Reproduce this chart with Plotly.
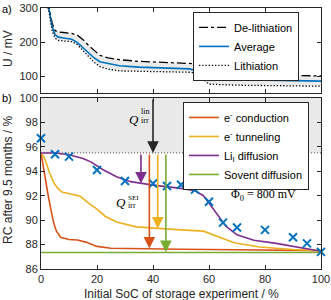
import plotly.graph_objects as go

# ---------------- data ----------------
# panel a) voltage curves
soc_u = [0, 2, 3, 4, 5, 6, 8, 11, 13, 15, 17, 19, 21, 24, 28, 35, 45, 53, 56, 58, 60, 62, 65, 70, 80, 90, 100]
u_delith = [480, 340, 298, 255, 234, 230, 228, 225, 220, 207, 190, 174, 161, 153, 148, 143, 140, 138, 136, 133, 128, 121, 113, 108, 104, 102, 100]
u_avg = [470, 330, 290, 245, 222, 215, 212, 208, 198, 182, 166, 153, 142, 136, 130, 126, 124, 121, 114, 100, 95, 92, 91, 89, 88, 86, 85]
u_lith = [460, 320, 282, 232, 212, 205, 203, 201, 192, 175, 158, 140, 128, 120, 115, 114, 113, 111, 108, 90, 76, 75, 74, 73, 72, 71, 70]

# panel b) measured recoverable capacity
soc_meas = [0, 5, 10, 20, 30, 40, 45, 50, 55, 60, 65, 70, 80, 90, 95, 100]
rc_meas = [96.7, 95.4, 95.2, 94.1, 93.2, 93.0, 92.8, 92.9, 92.5, 91.5, 89.8, 89.4, 89.2, 88.6, 88.1, 87.4]

# model curves
soc_cond = [0, 0.7, 1.5, 2.5, 3.5, 4.5, 5.5, 7, 10, 13, 16, 20, 25, 35, 50, 70, 100]
rc_cond = [95.5, 94.5, 93.4, 92.1, 90.9, 89.8, 89.1, 88.6, 88.42, 88.38, 88.2, 87.85, 87.7, 87.65, 87.62, 87.57, 87.5]

soc_tun = [0, 1, 2, 3, 4.5, 6, 7.5, 10, 14, 17, 20, 23, 27, 34, 44, 50, 58, 64, 69, 78, 90, 100]
rc_tun = [95.5, 95.2, 94.6, 93.9, 93.1, 92.6, 92.3, 92.15, 91.95, 91.4, 90.9, 90.3, 89.85, 89.45, 89.26, 89.2, 89.1, 88.6, 88.15, 87.8, 87.6, 87.5]

soc_lii = [0, 5, 10, 15, 18, 22, 27, 32, 40, 50, 55, 58, 60, 63, 66, 70, 76, 84, 92, 100]
rc_lii = [95.5, 95.5, 95.35, 95.05, 94.75, 94.15, 93.55, 93.15, 92.87, 92.6, 92.4, 92.0, 91.4, 90.5, 89.5, 88.8, 88.35, 88.1, 87.75, 87.45]

soc_solv = [0, 100]
rc_solv = [87.35, 87.35]

lin_level = 95.5          # RC after linear (calendar) loss
rc_top = 100

# arrows: SoC, start RC, end RC
arrow_soc = [40, 35.7, 38.7, 41.7, 44.6]
arrow_start = [rc_top, lin_level, lin_level, lin_level, lin_level]
arrow_end = [lin_level, 93.0, 87.68, 89.3, 87.38]

# ---------------- styling ----------------
BLUE = '#0072BD'
ORANGE = '#D95319'
YELLOW = '#EDB120'
PURPLE = '#7E2F8E'
GREEN = '#77AC30'
AX = '#262626'
FONT = 'Liberation Sans, Arial, sans-serif'
SERIF = 'Liberation Serif, DejaVu Serif, serif'
arrow_col = ['#262626', PURPLE, ORANGE, YELLOW, GREEN]

fig = go.Figure()

# ---- panel a ----
fig.add_trace(go.Scatter(x=soc_u, y=u_lith, mode='lines', line=dict(width=0, color='rgba(0,0,0,0)'),
                         xaxis='x2', yaxis='y2', showlegend=False, hoverinfo='skip'))
fig.add_trace(go.Scatter(x=soc_u, y=u_delith, mode='lines', line=dict(width=0, color='rgba(0,0,0,0)'),
                         fill='tonexty', fillcolor='#ebebeb',
                         xaxis='x2', yaxis='y2', showlegend=False, hoverinfo='skip'))
fig.add_trace(go.Scatter(x=soc_u, y=u_delith, mode='lines', name='De-lithiation',
                         line=dict(color='black', width=1.3, dash='dashdot'),
                         xaxis='x2', yaxis='y2', legend='legend'))
fig.add_trace(go.Scatter(x=soc_u, y=u_avg, mode='lines', name='Average',
                         line=dict(color=BLUE, width=1.6),
                         xaxis='x2', yaxis='y2', legend='legend'))
fig.add_trace(go.Scatter(x=soc_u, y=u_lith, mode='lines', name='Lithiation',
                         line=dict(color='black', width=1.3, dash='1.3px,1.9px'),
                         xaxis='x2', yaxis='y2', legend='legend'))

# ---- panel b ----
fig.add_trace(go.Scatter(x=soc_cond, y=rc_cond, mode='lines', name='e<sup>-</sup> conduction',
                         line=dict(color=ORANGE, width=1.6), legend='legend2'))
fig.add_trace(go.Scatter(x=soc_tun, y=rc_tun, mode='lines', name='e<sup>-</sup> tunneling',
                         line=dict(color=YELLOW, width=1.6), legend='legend2'))
fig.add_trace(go.Scatter(x=soc_lii, y=rc_lii, mode='lines', name='Li<sub>I</sub> diffusion',
                         line=dict(color=PURPLE, width=1.6), legend='legend2'))
fig.add_trace(go.Scatter(x=soc_solv, y=rc_solv, mode='lines', name='Sovent diffusion',
                         line=dict(color=GREEN, width=1.6), legend='legend2'))
fig.add_trace(go.Scatter(x=soc_meas, y=rc_meas, mode='markers', showlegend=False,
                         marker=dict(symbol='x-thin', size=8, line=dict(color=BLUE, width=2), color=BLUE),
                         cliponaxis=False))

# grey "linear loss" region
fig.add_shape(type='rect', xref='x', yref='y', x0=0, x1=100, y0=lin_level, y1=rc_top,
              fillcolor='#e9e9e9', line=dict(width=0), layer='below')
fig.add_shape(type='line', xref='x', yref='y', x0=0, x1=100, y0=lin_level, y1=lin_level,
              line=dict(color='#707070', width=1.2, dash='1px,2px'), layer='below')

annotations = []
for xs, y0, y1, c in zip(arrow_soc, arrow_start, arrow_end, arrow_col):
    annotations.append(dict(x=xs, y=y1, ax=xs, ay=y0, xref='x', yref='y', axref='x', ayref='y',
                            text='', showarrow=True, arrowhead=2, arrowsize=1.45, arrowwidth=1.6,
                            arrowcolor=c, standoff=0, startstandoff=0))

# Q labels (symbol + superscript + subscript)
def qlabel(xq, yq, sup, ysup, ysub, supsize):
    return [
        dict(x=xq, y=yq, xref='x', yref='y', text='<i>Q</i>', showarrow=False, xanchor='right',
             borderpad=0, font=dict(family=SERIF, size=13, color='black')),
        dict(x=xq, y=ysup, xref='x', yref='y', text=sup, showarrow=False, xanchor='left',
             borderpad=0, font=dict(family=SERIF, size=supsize, color='black')),
        dict(x=xq, y=ysub, xref='x', yref='y', text='irr', showarrow=False, xanchor='left',
             borderpad=0, font=dict(family=SERIF, size=8, color='black')),
    ]

annotations += qlabel(35.4, 98.28, 'lin', 98.9, 98.13, 8)
annotations += qlabel(30.8, 91.43, 'SEI', 91.84, 91.22, 7)
annotations.append(dict(x=79.6, y=92.05, xref='x', yref='y', text='Φ<sub>0</sub> = 800 mV',
                        showarrow=False, font=dict(family=SERIF, size=12, color='black')))

# panel letters and axis titles
annotations += [
    dict(x=-0.12, y=0.996, xref='paper', yref='paper', text='a)', showarrow=False,
         font=dict(family=FONT, size=11, color='black'), xanchor='center', yanchor='middle'),
    dict(x=-0.12, y=0.655, xref='paper', yref='paper', text='b)', showarrow=False,
         font=dict(family=FONT, size=11, color='black'), xanchor='center', yanchor='middle'),
    dict(x=-0.118, y=0.847, xref='paper', yref='paper', text='U / mV', showarrow=False, textangle=-90,
         font=dict(family=FONT, size=12, color=AX), xanchor='center', yanchor='middle'),
    dict(x=-0.118, y=0.341, xref='paper', yref='paper', text='RC after 9.5 months / %', showarrow=False,
         textangle=-90, font=dict(family=FONT, size=12, color=AX), xanchor='center', yanchor='middle'),
    dict(x=0.5, y=-0.096, xref='paper', yref='paper', text='Initial SoC of storage experiment / %',
         showarrow=False, font=dict(family=FONT, size=12, color=AX), xanchor='center', yanchor='middle'),
]

axis_common = dict(showline=True, linecolor=AX, linewidth=1, mirror='ticks', ticks='inside',
                   ticklen=4, tickcolor=AX, tickwidth=1, showgrid=False, zeroline=False,
                   automargin=False, tickfont=dict(family=FONT, size=11, color=AX))

fig.update_layout(
    template='none',
    width=331, height=300, autosize=False,
    margin=dict(l=41, r=10, t=8, b=31, pad=0, autoexpand=False),
    paper_bgcolor='white', plot_bgcolor='white',
    font=dict(family=FONT, size=11, color=AX),
    xaxis=dict(range=[0, 100], domain=[0, 1], anchor='y', tickvals=[0, 20, 40, 60, 80, 100], **axis_common),
    yaxis=dict(range=[86, 100], domain=[0, 0.6552], anchor='x', tickvals=[86, 88, 90, 92, 94, 96, 98, 100],
               **axis_common),
    xaxis2=dict(range=[0, 100], domain=[0, 1], anchor='y2', tickvals=[0, 20, 40, 60, 80, 100],
                showticklabels=False, **axis_common),
    yaxis2=dict(range=[50, 300], domain=[0.6743, 1], anchor='x2', tickvals=[100, 200, 300], **axis_common),
    legend=dict(x=0.543, y=0.985, xanchor='left', yanchor='top', bgcolor='white', bordercolor=AX,
                borderwidth=1, font=dict(family=FONT, size=11, color='black'), tracegroupgap=0,
                itemwidth=30, traceorder='normal'),
    legend2=dict(x=0.507, y=0.640, xanchor='left', yanchor='top', bgcolor='white', bordercolor=AX,
                 borderwidth=1, font=dict(family=FONT, size=11, color='black'), tracegroupgap=0,
                 itemwidth=30, traceorder='normal'),
    annotations=annotations,
    showlegend=True,
)

fig.write_html('out.html', config={'displayModeBar': False},
               post_script="document.body.style.margin='0';document.body.style.padding='0';")
